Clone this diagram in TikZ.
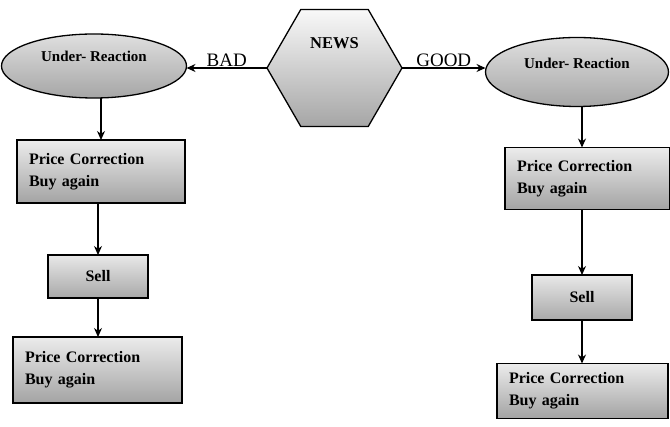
\documentclass[tikz,border=0pt]{standalone}
\usepackage{fontspec}
\setmainfont{Liberation Serif}
\usetikzlibrary{shapes.geometric,arrows.meta}
\tikzset{
  base/.style={draw=black, line width=1.3pt, outer sep=0pt, font=\bfseries\fontsize{16}{22}\selectfont},
  hexbox/.style={base, regular polygon, regular polygon sides=6, minimum size=135pt, inner sep=0pt, top color=gray!5, bottom color=gray!70},
  ovalbox/.style={base, ellipse, inner sep=0pt, top color=gray!25, bottom color=gray!70},
  pricebox/.style={base, rectangle, align=left, inner xsep=12pt, top color=gray!15, bottom color=gray!72},
  sellbox/.style={base, rectangle, top color=gray!18, bottom color=gray!68},
  arr/.style={draw=black, line width=1.3pt, -{Stealth[length=9pt,width=8pt]}},
  edgelbl/.style={font=\fontsize{19}{22}\selectfont, inner sep=1pt}
}
\begin{document}
\begin{tikzpicture}[x=1pt,y=-1pt]
\useasboundingbox (0,0) rectangle (670,427);
% NEWS hexagon
\node[hexbox, label={[name=newslbl, font=\bfseries\fontsize{16.5}{18}\selectfont, yshift=25pt]center:NEWS}] (news) at (334.5,68) {};
% ellipses
\node[ovalbox, minimum width=185pt, minimum height=64pt, label={[name=ullbl, font=\bfseries\fontsize{15}{18}\selectfont, yshift=10pt]center:Under- Reaction}] (ul) at (94,66) {};
\node[ovalbox, minimum width=183pt, minimum height=69pt, label={[name=urlbl, font=\bfseries\fontsize{15}{18}\selectfont, yshift=9pt]center:Under- Reaction}] (ur) at (577,72) {};
% left column
\node[pricebox, text width=144pt, minimum height=63pt] (lb1) at (101,171.5) {Price Correction\\Buy again};
\node[sellbox, minimum width=100pt, minimum height=43pt] (ls) at (98,276.5) {Sell};
\node[pricebox, text width=145pt, minimum height=66pt] (lb2) at (97.5,370) {Price Correction\\Buy again};
% right column
\node[pricebox, text width=141pt, minimum height=62pt] (rb1) at (587.5,178.5) {Price Correction\\Buy again};
\node[sellbox, minimum width=100pt, minimum height=45pt] (rs) at (582,297.5) {Sell};
\node[pricebox, text width=147pt, minimum height=55pt] (rb2) at (582.5,391) {Price Correction\\Buy again};
% connectors
\draw[arr] (news.west) -- node[edgelbl, above] (badlbl) {BAD} (news.west -| ul.east);
\draw[arr] (news.east) -- node[edgelbl, above] (goodlbl) {GOOD} (news.east -| ur.west);
\draw[arr] (lb1.north |- ul.south) -- (lb1.north);
\draw[arr] (ls.north |- lb1.south) -- (ls.north);
\draw[arr] (ls.south) -- (ls.south |- lb2.north);
\draw[arr] (rs.north |- ur.south) -- (rs.north |- rb1.north);
\draw[arr] (rs.north |- rb1.south) -- (rs.north);
\draw[arr] (rs.south) -- (rs.south |- rb2.north);
\end{tikzpicture}
\end{document}
